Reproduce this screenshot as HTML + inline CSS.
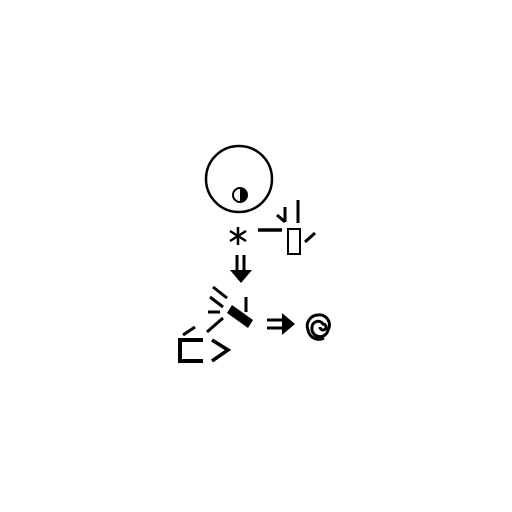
<!DOCTYPE html>
<html><head><style>body{margin:0;background:#fff}svg{display:block}</style></head>
<body>
<svg width="512" height="512" viewBox="0 0 512 512">
<g stroke="#000" fill="none" stroke-width="2.5">
<circle cx="239" cy="179" r="33"/>
<g>
<circle cx="240" cy="195" r="7" stroke-width="2"/>
<path d="M240 188 A7 7 0 0 1 240 202 Z" fill="#000" stroke="none"/>
</g>
<g stroke-width="2.5">
<line x1="238" y1="227" x2="238" y2="245"/>
<line x1="230" y1="231" x2="246" y2="241"/>
<line x1="230" y1="241" x2="246" y2="231"/>
</g>
<line x1="258" y1="230" x2="282" y2="230" stroke-width="3.5"/>
<line x1="285" y1="207" x2="285" y2="222" stroke-width="3"/>
<line x1="277" y1="215" x2="285" y2="222" stroke-width="3"/>
<line x1="298" y1="200" x2="298" y2="223" stroke-width="3"/>
<rect x="288" y="229" width="12" height="25" stroke-width="2"/>
<line x1="305" y1="242" x2="315" y2="233" stroke-width="3"/>
<g>
<line x1="237" y1="255" x2="237" y2="271" stroke-width="3"/>
<line x1="244" y1="255" x2="244" y2="271" stroke-width="3"/>
<polygon points="230,270 252,270 241,283" fill="#000" stroke="none"/>
</g>
<polygon points="232,305 253,320 248,328 227,313" fill="#000" stroke="none"/>
<g stroke-width="3">
<line x1="213" y1="287" x2="227" y2="298"/>
<line x1="210" y1="297" x2="223" y2="307"/>
<line x1="208" y1="312" x2="220" y2="312"/>
<line x1="246" y1="297" x2="246" y2="312"/>
<line x1="207" y1="332" x2="223" y2="318"/>
<line x1="183" y1="335" x2="195" y2="327"/>
</g>
<g stroke-width="4">
<polyline points="203,340 180,340 180,361 203,361"/>
<polyline points="212,340 228,350 212,361" stroke-width="3.5"/>
</g>
<g>
<line x1="267" y1="320" x2="284" y2="320" stroke-width="3"/>
<line x1="267" y1="328" x2="284" y2="328" stroke-width="3"/>
<polygon points="282,313 295,324 282,335" fill="#000" stroke="none"/>
</g>
<path d="M320 327 A3 3 0 1 0 323 324 A6 6 0 0 0 312 327 A8 8 0 0 0 328 330 A10 10 0 0 0 318 315 A11 11 0 0 0 308 330 A11 11 0 0 0 324 338" stroke-width="3"/>
</g>
</svg>
</body></html>
